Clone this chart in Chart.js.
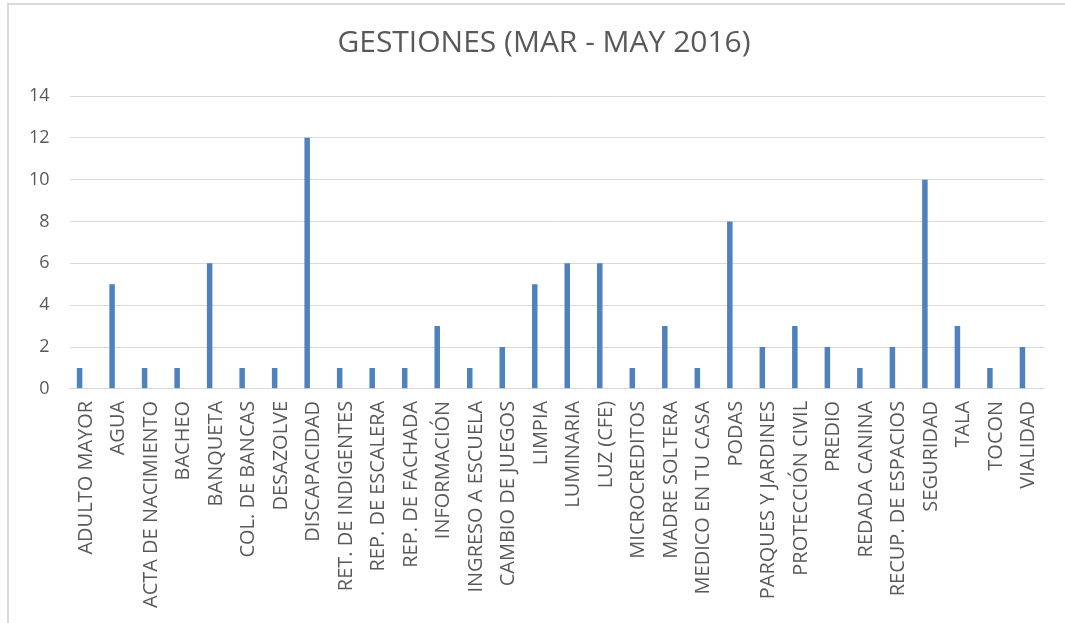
<!DOCTYPE html>
<html>
<head>
<meta charset="utf-8">
<script src="https://cdn.jsdelivr.net/npm/chart.js@4"></script>
<style>
    html, body { margin: 0; padding: 0; background: #fff; }
    #wrap { position: relative; width: 1065px; height: 623px; overflow: hidden; }
    #frame { position: absolute; left: 7px; top: 3px; width: 1070px; height: 640px;
             border-left: 2px solid #d9d9d9; border-top: 2px solid #d9d9d9; }
    canvas { position: absolute; left: 0; top: 0; }
</style>
</head>
<body>
<div id="wrap">
    <div id="frame"></div>
    <canvas id="resultChart" width="1065" height="623"></canvas>
</div>
<script>
const chartTitle = 'GESTIONES (MAR - MAY 2016)';

const categories = [
    'ADULTO MAYOR', 'AGUA', 'ACTA DE NACIMIENTO', 'BACHEO', 'BANQUETA',
    'COL. DE BANCAS', 'DESAZOLVE', 'DISCAPACIDAD', 'RET. DE INDIGENTES', 'REP. DE ESCALERA',
    'REP. DE FACHADA', 'INFORMACIÓN', 'INGRESO A ESCUELA', 'CAMBIO DE JUEGOS', 'LIMPIA',
    'LUMINARIA', 'LUZ (CFE)', 'MICROCREDITOS', 'MADRE SOLTERA', 'MEDICO EN TU CASA',
    'PODAS', 'PARQUES Y JARDINES', 'PROTECCIÓN CIVIL', 'PREDIO', 'REDADA CANINA',
    'RECUP. DE ESPACIOS', 'SEGURIDAD', 'TALA', 'TOCON', 'VIALIDAD'
];

const gestiones = [
    1, 5, 1, 1, 6,
    1, 1, 12, 1, 1,
    1, 3, 1, 2, 5,
    6, 6, 1, 3, 1,
    8, 2, 3, 2, 1,
    2, 10, 3, 1, 2
];

// second series of the original sheet is empty; it only reserves the slot
// that pushes the visible bars left of each category centre
const emptySeries = [];

const yMax = 14;
const yStep = 2;

const textColor = '#595959';
const gridColor = '#d9d9d9';
const barColor = '#4f81bd';

// the title in the original sits a bit right of the canvas centre
const shiftTitle = {
    id: 'shiftTitle',
    afterLayout(chart) {
        if (chart.titleBlock) {
            chart.titleBlock.left += 16;
            chart.titleBlock.right += 16;
        }
    }
};

const ctx = document.getElementById('resultChart').getContext('2d');

new Chart(ctx, {
    type: 'bar',
    data: {
        labels: categories,
        datasets: [{
            label: 'Gestiones',
            data: gestiones,
            backgroundColor: barColor,
            borderWidth: 0,
            categoryPercentage: 0.77,
            barPercentage: 0.44
        }, {
            label: '',
            data: emptySeries,
            backgroundColor: barColor,
            borderWidth: 0,
            categoryPercentage: 0.77,
            barPercentage: 0.44
        }]
    },
    options: {
        responsive: false,
        animation: false,
        layout: {
            padding: { left: 9, right: 18, top: 0, bottom: 3 }
        },
        plugins: {
            legend: { display: false },
            tooltip: { enabled: false },
            title: {
                display: true,
                text: chartTitle,
                color: textColor,
                font: { family: 'Open Sans', size: 30, weight: 'normal' },
                padding: { top: 25, bottom: 35 }
            }
        },
        scales: {
            x: {
                grid: { display: false, drawTicks: false },
                border: { color: gridColor, width: 1 },
                ticks: {
                    color: textColor,
                    font: { family: 'Open Sans', size: 20 },
                    minRotation: 90,
                    maxRotation: 90,
                    autoSkip: false,
                    padding: 12
                }
            },
            y: {
                min: 0,
                max: yMax,
                grid: { color: gridColor, drawTicks: false },
                border: { display: false },
                ticks: {
                    stepSize: yStep,
                    color: textColor,
                    font: { family: 'Open Sans', size: 18 },
                    padding: 20
                }
            }
        }
    },
    plugins: [shiftTitle]
});
</script>
</body>
</html>
